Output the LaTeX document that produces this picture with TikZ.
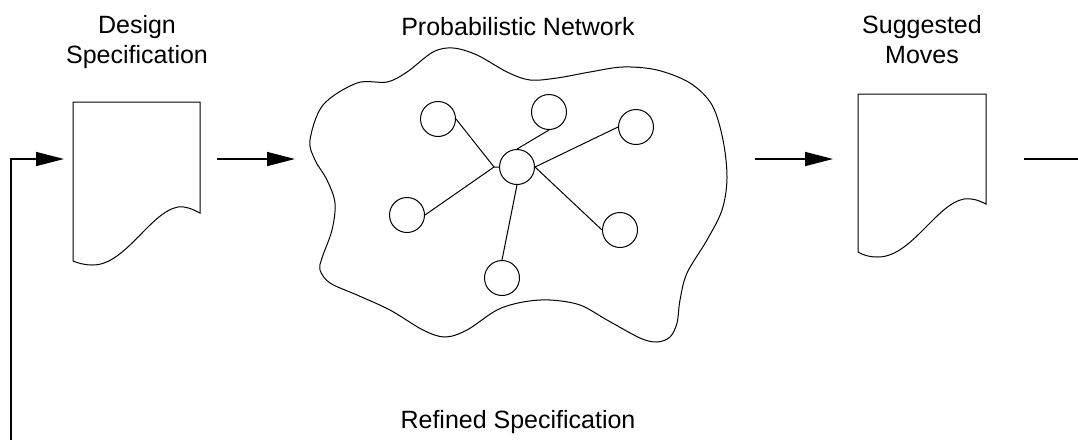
\documentclass[tikz,border=0pt]{standalone}
\usepackage{fontspec}
\setmainfont{Liberation Sans}
\usetikzlibrary{arrows.meta}
\begin{document}
\begin{tikzpicture}[x=1pt,y=-1pt,
  lbl/.style={font=\fontsize{25}{30}\selectfont, align=center, inner sep=0pt},
  conn/.style={line width=1.5pt, line join=miter, -{Triangle[length=28pt,width=14pt]}},
  plainconn/.style={line width=1.5pt},
  docline/.style={line width=1pt, line join=miter},
  bn/.style={circle, draw, line width=1pt, minimum size=35pt, inner sep=0pt},
  netedge/.style={line width=1pt},
  docbox/.style={rectangle, draw=none, minimum width=127pt, minimum height=159pt, inner sep=0pt}]
\useasboundingbox (0,0) rectangle (1078,440);

% documents
\node[docbox, anchor=north west] (ds) at (73,102) {};
\node[docbox, anchor=north west] (sm) at (858,94) {};
\begin{scope}[shift={(ds.north west)}]
\draw[docline] (0,0) -- (127,0) -- (127,111)
  .. controls (119,107) and (113,104) .. (105,105)
  .. controls (77,110) and (52,164) .. (19,163)
  .. controls (11,163) and (5,161) .. (0,159) -- cycle;
\end{scope}
\begin{scope}[shift={(sm.north west)}]
\draw[docline] (0,0) -- (128,0) -- (128,110)
  .. controls (120,106) and (114,104) .. (106,105)
  .. controls (78,110) and (53,164) .. (19,163)
  .. controls (11,163) and (5,161) .. (0,158) -- cycle;
\end{scope}

% cloud
\draw[line width=1pt] plot[smooth cycle, tension=0.55] coordinates {
 (323,105) (357,83) (387,82) (407,72) (433,52) (453,48) (477,55) (507,72)
 (530,80) (557,78) (590,72) (623,67) (657,70) (690,83) (712,105) (723,140)
 (727,178) (722,210) (707,240) (687,273) (680,300) (677,323) (670,337)
 (657,342) (640,338) (607,320) (580,305) (550,300) (523,302) (497,310)
 (467,330) (445,337) (423,330) (390,310) (357,295) (330,283) (320,270)
 (322,258) (332,230) (335,203) (327,180) (315,160) (310,140)};

% network
\node[bn] (c)  at (517,167) {};
\node[bn] (tl) at (438,119) {};
\node[bn] (t)  at (549,112) {};
\node[bn] (tr) at (636,127) {};
\node[bn] (l)  at (407,215) {};
\node[bn] (r)  at (620,230) {};
\node[bn] (b)  at (502,278) {};
\coordinate (j) at (494,167);
\draw[netedge] (tl.east) -- (j) -- (c.west);
\draw[netedge] (l.east) -- (j);
\draw[netedge] (c.north) -- (t.south);
\draw[netedge] (c.east) -- (tr.west);
\draw[netedge] (c.east) -- (r.west);
\draw[netedge] (c.south) -- (b.north);

% connectors
\coordinate (fb0) at (11,440);
\coordinate (fb1) at (64,159);
\coordinate (a2s) at (217,159);
\coordinate (a2e) at (295,159);
\coordinate (a3s) at (755,159);
\coordinate (a3e) at (833,159);
\coordinate (a4s) at (1024,159);
\coordinate (a4e) at (1078,159);
\draw[conn] (fb0) |- (fb1);
\draw[conn] (a2s) -- (a2e);
\draw[conn] (a3s) -- (a3e);
\draw[plainconn] (a4s) -- (a4e);

% labels
\node[lbl, anchor=base] (t1) at (137,63) {Design\\Specification};
\node[lbl, anchor=base] (t2) at (518,35) {Probabilistic Network};
\node[lbl, anchor=base] (t3) at (922,63) {Suggested\\Moves};
\node[lbl, anchor=base] (t4) at (518,428) {Refined Specification};
\end{tikzpicture}
\end{document}
